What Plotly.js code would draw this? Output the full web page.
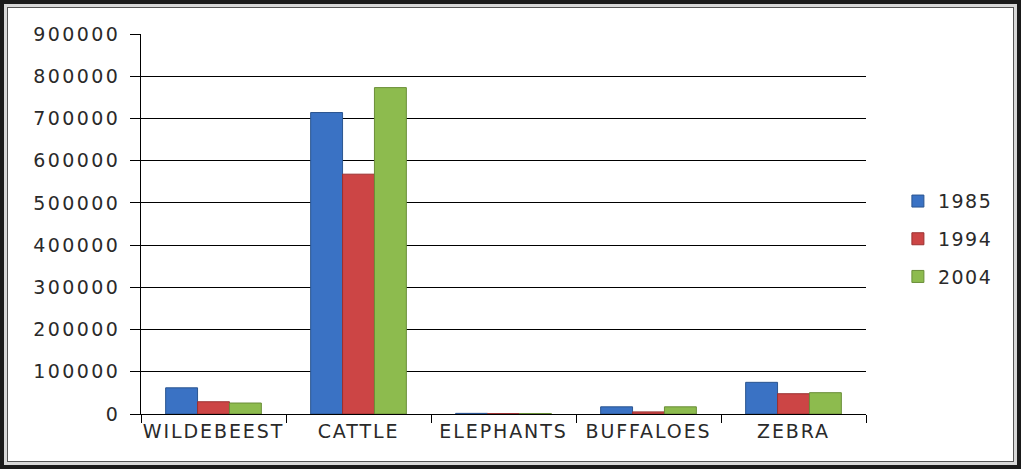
<!DOCTYPE html>
<html>
<head>
<meta charset="utf-8">
<script src="https://cdn.plot.ly/plotly-3.0.1.min.js"></script>
<style>
  html, body { margin: 0; padding: 0; background: #fff; }
  #wrap { position: relative; width: 1021px; height: 469px; }
  #chart { position: absolute; left: 0; top: 0; width: 1021px; height: 469px; }
  #frame { position: absolute; left: 0; top: 0; width: 1021px; height: 469px; box-sizing: border-box;
           border: 4px solid #1a1a1a; box-shadow: inset 0 0 0 3px #d8d8d8, inset 0 0 0 4px #555; pointer-events: none; }
  #chart .ytick text { letter-spacing: 2.4px; }
  #chart .xtick text { letter-spacing: 1.9px; }
  #chart .legendtext { letter-spacing: 1.5px; }
</style>
</head>
<body>
<div id="wrap">
  <div id="chart"></div>
  <div id="frame"></div>
</div>
<script>
const categories = ["WILDEBEEST", "CATTLE", "ELEPHANTS", "BUFFALOES", "ZEBRA"];
const series1985 = [62000, 714000, 1500, 17000, 75000];
const series1994 = [29000, 568000, 1000, 5000, 48000];
const series2004 = [26000, 773000, 1200, 17000, 50500];
const seriesNames = ["1985", "1994", "2004"];
const yTicks = [0, 100000, 200000, 300000, 400000, 500000, 600000, 700000, 800000, 900000];

const fills = ["#3A72C4", "#CC4545", "#8DBB4E"];
const edges = ["#2B5590", "#9A3030", "#6A8E38"];
const allSeries = [series1985, series1994, series2004];

const traces = allSeries.map((vals, i) => ({
  type: "bar",
  name: seriesNames[i],
  legendgroup: "g" + i,
  x: categories,
  y: vals,
  marker: { color: fills[i], line: { color: edges[i], width: 1 } }
}));

const font = { family: "DejaVu Sans, sans-serif", size: 19, color: "#2a2a2a" };

const layout = {
  width: 1021,
  height: 469,
  margin: { l: 141, r: 155, t: 34, b: 55 },
  paper_bgcolor: "#ffffff",
  plot_bgcolor: "#ffffff",
  font: font,
  barmode: "group",
  bargap: 0.34,
  bargroupgap: 0,
  showlegend: true,
  legend: {
    x: 1.044, xanchor: "left",
    y: 0.46, yanchor: "middle",
    font: font,
    bgcolor: "rgba(0,0,0,0)",
    tracegroupgap: 10
  },
  xaxis: {
    type: "category",
    showline: true,
    linecolor: "#000",
    linewidth: 1,
    ticks: "outside",
    tickson: "boundaries",
    ticklen: 8,
    tickcolor: "#000",
    showgrid: false,
    tickfont: font,
    fixedrange: true
  },
  yaxis: {
    range: [0, 900000],
    tickvals: yTicks,
    ticktext: yTicks.map(String),
    showline: true,
    linecolor: "#000",
    linewidth: 1,
    ticks: "outside",
    ticklen: 10,
    tickcolor: "#000",
    ticklabelstandoff: 6,
    showgrid: true,
    gridcolor: "#000",
    gridwidth: 1,
    zeroline: false,
    tickfont: font,
    fixedrange: true
  }
};

Plotly.newPlot("chart", traces, layout, { displayModeBar: false, staticPlot: true });
</script>
</body>
</html>
